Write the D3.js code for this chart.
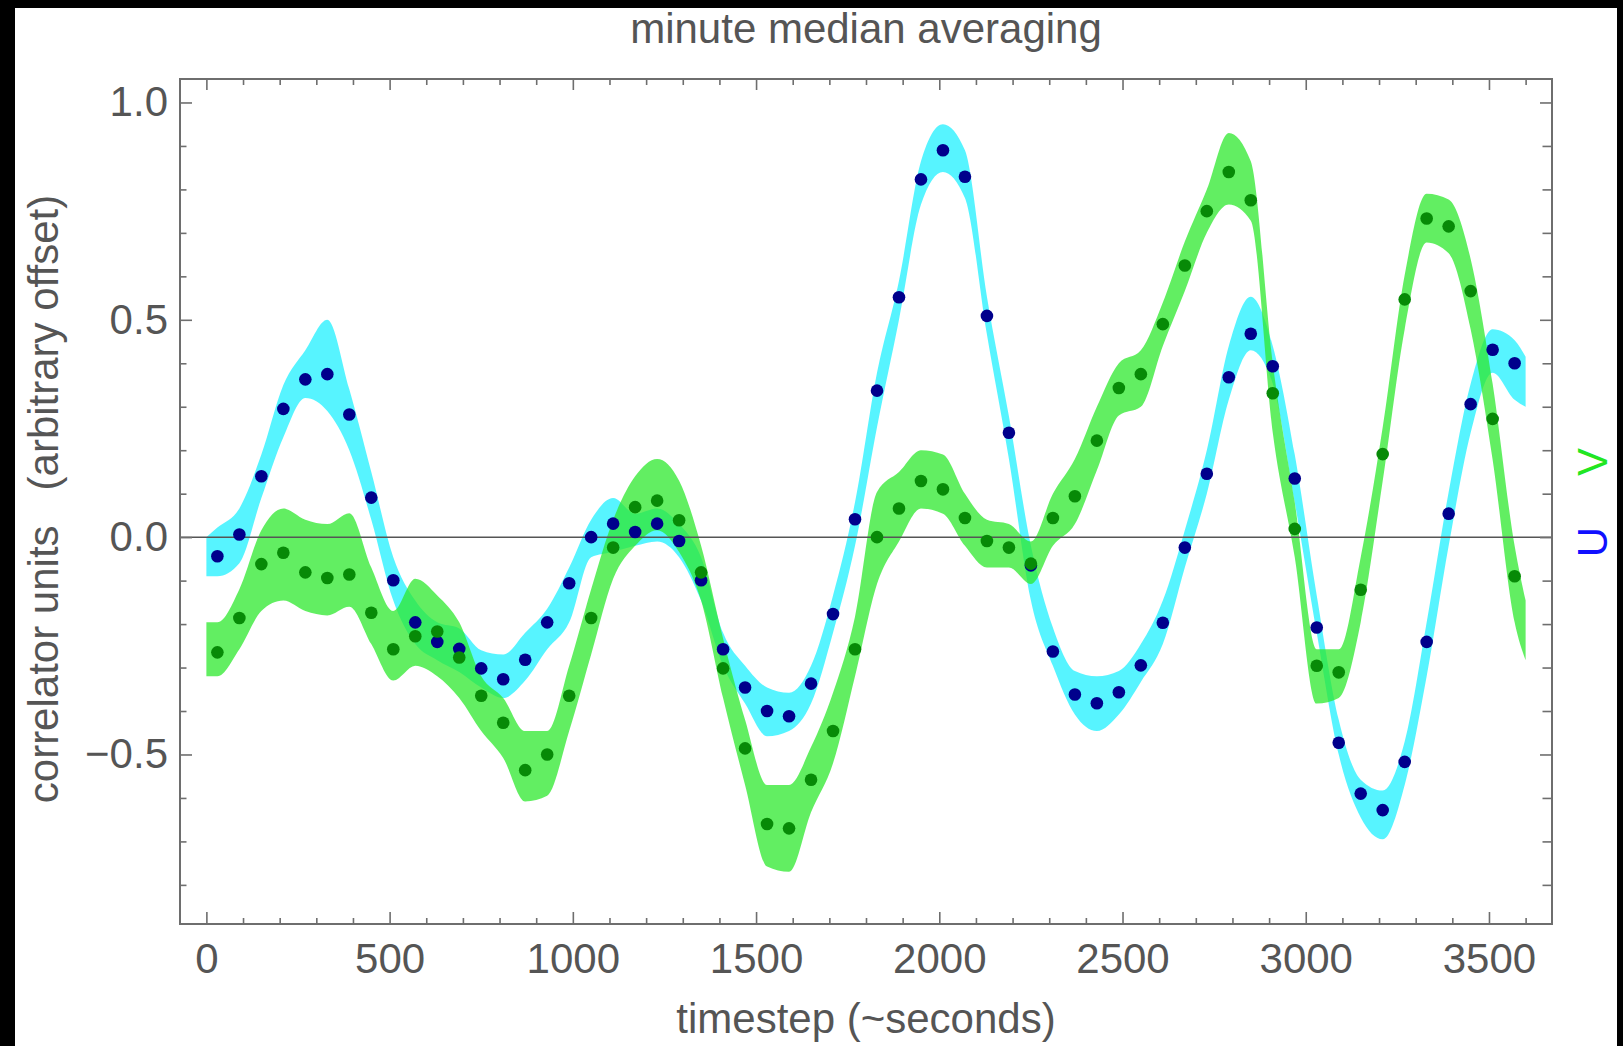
<!DOCTYPE html>
<html>
<head>
<meta charset="utf-8">
<script src="https://cdn.jsdelivr.net/npm/d3@7"></script>
<style>
  html, body { margin: 0; padding: 0; background: #000; }
  svg { display: block; }
  text { font-family: "Liberation Sans", Arial, Helvetica, sans-serif; }
</style>
</head>
<body>
<script>
// U and V correlator output, one minute medians on top of the raw per-second cloud.

// minute centres (timestep) for the median points
const medianTimes = [30, 90, 150, 210, 270, 330, 390, 450, 510, 570, 630, 690, 750, 810, 870, 930, 990, 1050, 1110, 1170,
    1230, 1290, 1350, 1410, 1470, 1530, 1590, 1650, 1710, 1770, 1830, 1890, 1950, 2010, 2070, 2130, 2190, 2250, 2310, 2370,
    2430, 2490, 2550, 2610, 2670, 2730, 2790, 2850, 2910, 2970, 3030, 3090, 3150, 3210, 3270, 3330, 3390, 3450, 3510, 3570];

const uMedian = [-0.044, 0.006, 0.14, 0.295, 0.363, 0.375, 0.282, 0.091, -0.099, -0.196, -0.241, -0.257, -0.302, -0.327, -0.282,
    -0.196, -0.106, 0.0, 0.031, 0.012, 0.031, -0.009, -0.099, -0.258, -0.346, -0.40, -0.412, -0.337, -0.177, 0.041,
    0.337, 0.552, 0.823, 0.89, 0.829, 0.509, 0.24, -0.065, -0.263, -0.362, -0.382, -0.357, -0.295, -0.197, -0.024,
    0.146, 0.368, 0.468, 0.393, 0.135, -0.208, -0.473, -0.59, -0.628, -0.517, -0.241, 0.054, 0.306, 0.431, 0.40];

const vMedian = [-0.265, -0.186, -0.062, -0.036, -0.081, -0.094, -0.086, -0.174, -0.258, -0.228, -0.217, -0.277, -0.365, -0.427, -0.536,
    -0.50, -0.365, -0.186, -0.024, 0.069, 0.084, 0.039, -0.081, -0.302, -0.486, -0.66, -0.67, -0.558, -0.446, -0.258,
    0.0, 0.066, 0.129, 0.11, 0.044, -0.009, -0.024, -0.061, 0.044, 0.094, 0.222, 0.343, 0.375, 0.49, 0.625,
    0.75, 0.84, 0.775, 0.331, 0.019, -0.296, -0.311, -0.121, 0.191, 0.547, 0.733, 0.715, 0.566, 0.272, -0.09];

// extent of the raw per-second cloud, read at the start, each minute centre and the end
const bandTimes = [0, 30, 90, 150, 210, 270, 330, 390, 450, 510, 570, 630, 690, 750, 810, 870, 930, 990, 1050, 1110, 1170,
    1230, 1290, 1350, 1410, 1470, 1530, 1590, 1650, 1710, 1770, 1830, 1890, 1950, 2010, 2070, 2130, 2190, 2250, 2310, 2370,
    2430, 2490, 2550, 2610, 2670, 2730, 2790, 2850, 2910, 2970, 3030, 3090, 3150, 3210, 3270, 3330, 3390, 3450, 3510, 3570, 3600];

const uHigh = [0.0, 0.022, 0.066, 0.19, 0.35, 0.43, 0.50, 0.34, 0.15, -0.046, -0.146, -0.196, -0.21, -0.26, -0.27, -0.22,
    -0.165, -0.07, 0.04, 0.09, 0.054, 0.066, 0.03, -0.046, -0.22, -0.296, -0.346, -0.358, -0.296, -0.134, 0.08,
    0.378, 0.59, 0.865, 0.95, 0.89, 0.553, 0.278, -0.02, -0.208, -0.308, -0.32, -0.308, -0.246, -0.146, 0.016,
    0.2, 0.44, 0.553, 0.44, 0.19, -0.134, -0.42, -0.558, -0.583, -0.47, -0.196, 0.104, 0.353, 0.478, 0.453, 0.415];

const uLow = [-0.09, -0.09, -0.06, 0.09, 0.23, 0.32, 0.29, 0.2, 0.04, -0.146, -0.246, -0.283, -0.31, -0.346, -0.37, -0.33,
    -0.258, -0.196, -0.046, -0.034, -0.02, -0.01, -0.046, -0.146, -0.296, -0.383, -0.458, -0.446, -0.383, -0.22, -0.02,
    0.253, 0.5, 0.765, 0.84, 0.78, 0.466, 0.18, -0.146, -0.296, -0.408, -0.446, -0.408, -0.333, -0.246, -0.07,
    0.1, 0.316, 0.43, 0.353, 0.08, -0.22, -0.5, -0.645, -0.695, -0.57, -0.32, -0.02, 0.24, 0.378, 0.316, 0.30];

const vHigh = [-0.196, -0.196, -0.12, 0.016, 0.066, 0.04, 0.03, 0.055, -0.07, -0.17, -0.096, -0.134, -0.196, -0.32, -0.37, -0.446,
    -0.446, -0.296, -0.12, 0.04, 0.14, 0.18, 0.13, -0.02, -0.233, -0.42, -0.57, -0.57, -0.483, -0.358, -0.183,
    0.104, 0.15, 0.2, 0.19, 0.10, 0.04, 0.03, -0.01, 0.10, 0.18, 0.30, 0.40, 0.43, 0.54, 0.68,
    0.80, 0.93, 0.865, 0.40, 0.08, -0.258, -0.258, -0.046, 0.253, 0.603, 0.79, 0.777, 0.64, 0.353, -0.02, -0.146];

const vLow = [-0.32, -0.32, -0.258, -0.17, -0.146, -0.17, -0.18, -0.16, -0.246, -0.33, -0.296, -0.32, -0.37, -0.446, -0.508, -0.608,
    -0.595, -0.446, -0.27, -0.096, -0.02, 0.016, -0.034, -0.146, -0.37, -0.57, -0.758, -0.77, -0.633, -0.52, -0.32,
    -0.108, -0.01, 0.066, 0.054, -0.02, -0.07, -0.07, -0.108, -0.02, 0.03, 0.154, 0.28, 0.30, 0.44, 0.566,
    0.70, 0.765, 0.728, 0.24, -0.046, -0.383, -0.37, -0.196, 0.129, 0.478, 0.678, 0.653, 0.478, 0.178, -0.196, -0.283];

const xTicks = [0, 500, 1000, 1500, 2000, 2500, 3000, 3500];
const xTickLabels = ['0', '500', '1000', '1500', '2000', '2500', '3000', '3500'];
const yTicks = [-0.5, 0, 0.5, 1.0];
const yTickLabels = ['\u22120.5', '0.0', '0.5', '1.0'];

let width = 1623;
let height = 1046;
let plot = {left: 180, right: 1552, top: 79, bottom: 924};
let textColor = '#555555';
let frameColor = '#6e6e6e';
let fontSize = 42;

let x = d3.scaleLinear().domain([-72, 3672]).range([plot.left, plot.right]);
let y = d3.scaleLinear().domain([-0.89, 1.054]).range([plot.bottom, plot.top]);

let svg = d3.select('body')
    .append('svg')
    .attr('width', width)
    .attr('height', height);

// black photo border, white page
svg.append('rect')
    .attr('width', width)
    .attr('height', height)
    .attr('fill', '#000');
svg.append('rect')
    .attr('x', 15)
    .attr('y', 8)
    .attr('width', 1602)
    .attr('height', height - 8)
    .attr('fill', '#fff');

// raw clouds
let band = d3.area()
    .x((d) => x(d.t))
    .y0((d) => y(d.lo))
    .y1((d) => y(d.hi))
    .curve(d3.curveMonotoneX);

let uBand = bandTimes.map((t, i) => ({t: t, lo: uLow[i], hi: uHigh[i]}));
let vBand = bandTimes.map((t, i) => ({t: t, lo: vLow[i], hi: vHigh[i]}));

svg.append('path')
    .datum(uBand)
    .attr('d', band)
    .attr('fill', '#1ff0ff')
    .attr('fill-opacity', 0.75);

svg.append('path')
    .datum(vBand)
    .attr('d', band)
    .attr('fill', '#2ee82e')
    .attr('fill-opacity', 0.75);

// zero axis line
svg.append('line')
    .attr('x1', plot.left)
    .attr('x2', plot.right)
    .attr('y1', y(0))
    .attr('y2', y(0))
    .attr('stroke', '#555')
    .attr('stroke-width', 1.5);

// minute medians
svg.selectAll('.umed')
    .data(medianTimes)
    .join('circle')
        .attr('class', 'umed')
        .attr('cx', (d) => x(d))
        .attr('cy', (d, i) => y(uMedian[i]))
        .attr('r', 6.3)
        .style('fill', '#00008c');

svg.selectAll('.vmed')
    .data(medianTimes)
    .join('circle')
        .attr('class', 'vmed')
        .attr('cx', (d) => x(d))
        .attr('cy', (d, i) => y(vMedian[i]))
        .attr('r', 6.3)
        .style('fill', '#078a07');

// frame with ticks on all four sides
function styleAxis(g) {
    g.select('.domain').remove();
    g.selectAll('line').attr('stroke', frameColor).attr('stroke-width', 1.6);
    g.selectAll('text')
        .attr('fill', textColor)
        .style('font-size', fontSize + 'px')
        .style('font-family', '"Liberation Sans", Arial, sans-serif');
}

let xMinor = d3.range(100, 3700, 100).filter((v) => v % 500 != 0);
let yMinor = d3.range(-8, 11, 1).map((v) => v / 10).filter((v) => Math.abs(v * 2 - Math.round(v * 2)) > 0.01);

svg.append('g')
    .attr('transform', 'translate(0,' + plot.bottom + ')')
    .call(d3.axisBottom(x).tickValues(xTicks).tickSizeInner(-12).tickSizeOuter(0).tickPadding(19)
        .tickFormat((d, i) => xTickLabels[i]))
    .call(styleAxis);
svg.append('g')
    .attr('transform', 'translate(0,' + plot.bottom + ')')
    .call(d3.axisBottom(x).tickValues(xMinor).tickSizeInner(-6).tickSizeOuter(0).tickFormat(''))
    .call(styleAxis);

svg.append('g')
    .attr('transform', 'translate(0,' + plot.top + ')')
    .call(d3.axisTop(x).tickValues(xTicks).tickSizeInner(-11).tickSizeOuter(0).tickFormat(''))
    .call(styleAxis);
svg.append('g')
    .attr('transform', 'translate(0,' + plot.top + ')')
    .call(d3.axisTop(x).tickValues(xMinor).tickSizeInner(-6).tickSizeOuter(0).tickFormat(''))
    .call(styleAxis);

svg.append('g')
    .attr('transform', 'translate(' + plot.left + ',0)')
    .call(d3.axisLeft(y).tickValues(yTicks).tickSizeInner(-12).tickSizeOuter(0).tickPadding(12)
        .tickFormat((d, i) => yTickLabels[i]))
    .call(styleAxis);
svg.append('g')
    .attr('transform', 'translate(' + plot.left + ',0)')
    .call(d3.axisLeft(y).tickValues(yMinor).tickSizeInner(-6.5).tickSizeOuter(0).tickFormat(''))
    .call(styleAxis);

svg.append('g')
    .attr('transform', 'translate(' + plot.right + ',0)')
    .call(d3.axisRight(y).tickValues(yTicks).tickSizeInner(-12).tickSizeOuter(0).tickFormat(''))
    .call(styleAxis);
svg.append('g')
    .attr('transform', 'translate(' + plot.right + ',0)')
    .call(d3.axisRight(y).tickValues(yMinor).tickSizeInner(-9.5).tickSizeOuter(0).tickFormat(''))
    .call(styleAxis);

svg.append('rect')
    .attr('x', plot.left)
    .attr('y', plot.top)
    .attr('width', plot.right - plot.left)
    .attr('height', plot.bottom - plot.top)
    .attr('fill', 'none')
    .attr('stroke', frameColor)
    .attr('stroke-width', 2);

// labels
svg.append('text')
    .attr('x', (plot.left + plot.right) / 2)
    .attr('y', 43)
    .attr('text-anchor', 'middle')
    .attr('fill', textColor)
    .style('font-size', fontSize + 'px')
    .text('minute median averaging');

svg.append('text')
    .attr('x', (plot.left + plot.right) / 2)
    .attr('y', 1033)
    .attr('text-anchor', 'middle')
    .attr('fill', textColor)
    .style('font-size', fontSize + 'px')
    .text('timestep (~seconds)');

svg.append('text')
    .attr('transform', 'translate(58,499) rotate(-90)')
    .attr('text-anchor', 'middle')
    .attr('fill', textColor)
    .style('font-size', fontSize + 'px')
    .style('white-space', 'pre')
    .text('correlator units   (arbitrary offset)');

svg.append('text')
    .attr('transform', 'translate(1607,542) rotate(-90)')
    .attr('text-anchor', 'middle')
    .attr('fill', '#1010ff')
    .style('font-size', fontSize + 'px')
    .text('U');

svg.append('text')
    .attr('transform', 'translate(1607,462) rotate(-90)')
    .attr('text-anchor', 'middle')
    .attr('fill', '#22e622')
    .style('font-size', fontSize + 'px')
    .text('V');
</script>
</body>
</html>
